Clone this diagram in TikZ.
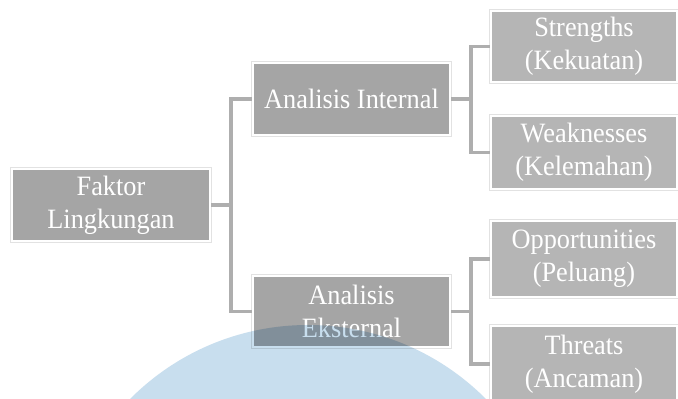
\documentclass[tikz,border=0pt]{standalone}
\usepackage{fontspec}
\setmainfont{Liberation Serif}[FakeStretch=0.94]
\usepackage{xcolor}
\usepackage{tikz}
\usetikzlibrary{calc}
\definecolor{boxdark}{HTML}{A5A5A5}
\definecolor{boxlight}{HTML}{B5B5B5}
\definecolor{wire}{HTML}{AEAEAE}
\definecolor{rim}{HTML}{E2E2E2}
\definecolor{wmblue}{HTML}{C8DEEE}
\tikzset{
  box/.style={fill=boxdark, draw=white, line width=2.5pt,
    preaction={draw=rim, line width=4.5pt},
    text=white, align=center, inner sep=0pt,
    font=\fontsize{28}{33}\selectfont},
  boxl/.style={box, fill=boxlight},
  link/.style={draw=wire, line width=3.5pt, line join=miter},
}

\begin{document}
\begin{tikzpicture}[x=1pt, y=1pt]
  \clip (0,0) rectangle (678,399);
  \fill[white] (0,0) rectangle (678,399);

  % levels
  \node[box, minimum width=198pt, minimum height=72pt] (faktor) at (111,194) {Faktor\\Lingkungan};
  \node[box, minimum width=197pt, minimum height=72pt] (internal) at (351.5,300) {Analisis Internal};
  \node[box, minimum width=197pt, minimum height=71pt] (eksternal) at (351.5,87.5) {Analisis\\Eksternal};
  \node[boxl, minimum width=186pt, minimum height=71pt] (strengths) at (584,352.5) {Strengths\\(Kekuatan)};
  \node[boxl, minimum width=186pt, minimum height=73pt] (weak) at (584,246.5) {Weaknesses\\(Kelemahan)};
  \node[boxl, minimum width=186pt, minimum height=76pt] (opp) at (584,140) {Opportunities\\(Peluang)};
  \node[boxl, minimum width=186pt, minimum height=76pt] (threats) at (584,35) {Threats\\(Ancaman)};

  % connectors
  \coordinate (j1) at (231,194);
  \coordinate (j2) at (471,300);
  \coordinate (j3) at (471,87.5);
  \draw[link] (faktor.east) -- (j1);
  \draw[link] (internal.west) -| (j1) |- (eksternal.west);
  \draw[link] (internal.east) -- (j2);
  \draw[link] (strengths.west) -| (j2) |- (weak.west);
  \draw[link] (eksternal.east) -- (j3);
  \draw[link] (opp.west) -| (j3) |- (threats.west);

  % watermark
  \begin{scope}[blend mode=multiply]
    \fill[wmblue] (308,-177) circle (251);
  \end{scope}
\end{tikzpicture}
\end{document}
